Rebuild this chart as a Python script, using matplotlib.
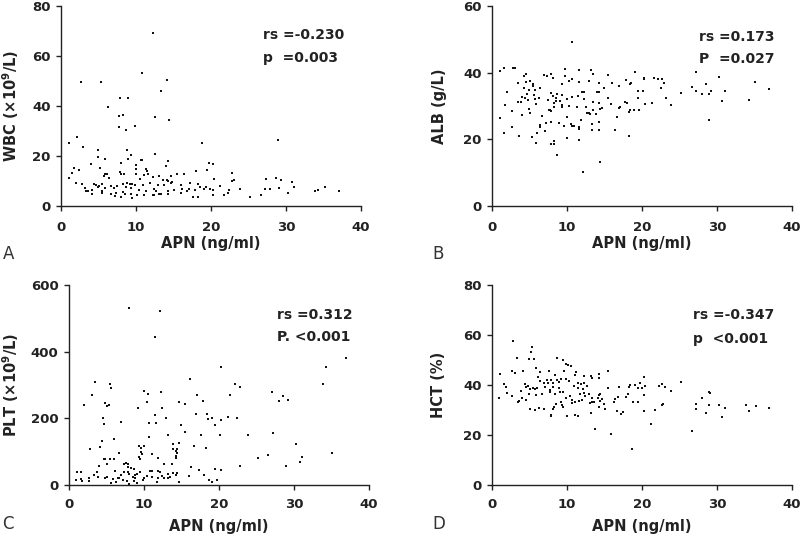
import matplotlib
matplotlib.use('Agg')
import matplotlib.pyplot as plt

# ---- panel A: WBC vs APN ----
wbc_apn = [12.2, 10.8, 2.7, 5.3, 14.1, 13.3, 6.3, 7.8, 8.9, 7.7, 8.3, 12.5, 14.4, 7.7, 9.8, 8.6,
           2.1, 1.0, 28.9, 18.8, 2.9, 4.9, 8.8, 12.5, 9.3, 4.9, 5.9, 8.9, 10.6, 10.8, 14.3, 8.0,
           19.7, 20.2, 4.0, 14.0, 10.0, 5.2, 1.7, 10.0, 11.3, 19.4, 1.4, 2.4, 18.0, 22.8, 11.4,
           11.6, 7.9, 5.9, 6.1, 8.0, 8.4, 11.1, 15.4, 16.4, 14.7, 13.1, 1.0, 5.7, 6.4, 10.0,
           14.1, 10.5, 12.2, 14.2, 20.4, 23.1, 27.3, 28.6, 29.3, 30.8, 22.8, 2.0, 2.8, 4.4,
           4.6, 5.1, 5.4, 6.7, 8.3, 8.8, 9.2, 9.4, 9.8, 10.9, 11.9, 12.9, 13.6, 13.7, 14.7,
           14.8, 17.2, 18.2, 16.0, 21.2, 19.3, 18.5, 3.2, 4.1, 4.9, 5.9, 7.1, 7.5, 8.7, 9.3,
           10.4, 11.3, 12.4, 12.6, 13.3, 14.2, 15.1, 16.1, 16.8, 17.0, 17.8, 19.0, 19.8, 20.3,
           22.4, 23.9, 27.2, 27.9, 29.0, 31.1, 33.8, 34.3, 35.2, 37.0, 3.3, 3.6, 5.4, 5.5, 6.7,
           7.3, 8.5, 9.3, 10.1, 11.1, 12.4, 13.1, 14.2, 16.0, 17.6, 18.3, 20.3, 21.7, 22.2,
           25.2, 26.7, 30.2, 4.1, 7.2, 8.0, 9.5, 12.2, 8.2]
wbc = [69.3, 53.2, 49.7, 49.5, 50.3, 45.9, 39.5, 43.3, 43.2, 36.1, 36.3, 35.5, 34.5, 31.5, 31.9, 30.3,
       27.6, 25.2, 26.4, 25.3, 23.6, 22.3, 22.3, 20.9, 20.5, 19.7, 18.9, 18.8, 18.3, 18.4, 18.0, 17.3,
       17.2, 16.9, 16.7, 16.0, 16.4, 15.2, 15.3, 15.0, 14.7, 14.5, 13.1, 14.3, 14.1, 13.3, 13.9,
       12.7, 13.6, 12.9, 12.9, 12.8, 12.7, 12.4, 12.7, 12.8, 12.1, 12.0, 11.2, 11.9, 11.2, 12.8,
       10.3, 10.8, 11.6, 9.9, 10.8, 10.5, 10.8, 11.1, 10.3, 9.5, 9.9, 9.2, 8.7, 8.7,
       8.4, 8.1, 8.8, 8.0, 8.9, 9.2, 8.9, 8.9, 8.4, 8.3, 9.2, 8.4, 10.3, 8.4, 9.3,
       9.5, 9.2, 8.8, 8.5, 7.9, 7.6, 7.7, 7.2, 6.5, 7.6, 7.1, 7.2, 8.1, 7.7, 7.2,
       6.5, 6.0, 6.8, 5.9, 4.9, 5.9, 6.4, 6.9, 6.0, 6.8, 6.4, 6.9, 6.7, 6.5,
       6.4, 6.7, 6.8, 6.7, 7.1, 7.7, 5.9, 6.4, 7.6, 6.1, 6.0, 5.9, 5.9, 5.3, 4.7,
       5.2, 4.7, 4.9, 4.4, 4.4, 4.5, 4.7, 4.7, 5.3, 3.6, 3.6, 4.5, 4.4, 5.2,
       3.7, 4.4, 5.1, 4.7, 3.9, 3.6, 3.2, 4.5, 5.5]

# ---- panel B: ALB vs APN ----
alb_apn = [10.6, 1.0, 1.6, 3.0, 2.85, 4.5, 6.9, 7.3, 7.9, 8.1, 9.7, 9.7, 10.3, 10.7, 11.6, 11.6,
           13.2, 13.5, 12.9, 14.3, 15.5, 14.9, 16.0, 16.9, 17.9, 19.1, 20.2, 20.3, 21.6, 22.1,
           22.7, 22.9, 22.5, 18.5, 18.4, 27.2, 30.3, 35.1, 36.9, 31.0, 27.2, 26.6, 28.5, 29.2,
           28.9, 28.0, 25.2, 23.2, 23.8, 30.7, 34.2, 28.9, 19.4, 19.4, 20.1, 20.4, 21.3, 19.6,
           18.4, 18.9, 18.3, 17.7, 18.0, 17.1, 16.9, 15.8, 15.4, 14.6, 14.4, 14.3, 14.0, 14.2,
           13.5, 13.4, 12.9, 12.5, 12.2, 12.0, 12.2, 11.4, 11.3, 10.3, 10.6, 10.0, 9.3, 9.0,
           9.3, 9.3, 8.7, 8.5, 8.5, 8.2, 8.1, 7.8, 7.5, 7.7, 7.9, 8.3, 9.3, 7.6, 7.2, 7.8,
           6.4, 6.3, 5.7, 5.5, 5.4, 5.0, 4.5, 4.3, 4.9, 4.6, 4.4, 4.8, 4.9, 5.0, 5.6, 5.7,
           5.9, 4.0, 4.0, 4.2, 3.4, 3.4, 3.9, 2.0, 1.7, 2.6, 1.0, 1.6, 2.7, 3.6, 5.3, 5.9,
           6.0, 6.4, 6.4, 6.7, 7.1, 7.9, 8.2, 8.3, 8.9, 8.7, 9.6, 10.0, 10.0, 10.5, 10.7,
           10.9, 11.6, 11.6, 11.9, 11.6, 12.1, 12.6, 13.1, 13.3, 13.3, 14.2, 14.3, 14.4,
           13.8, 16.4, 16.7, 18.2]
alb = [49.2, 40.6, 41.3, 41.3, 41.3, 39.5, 39.4, 39.1, 39.5, 38.5, 41.2, 39.0, 37.4, 38.1, 40.9, 37.1,
       40.9, 39.7, 37.6, 36.9, 39.2, 35.4, 36.8, 36.1, 37.7, 40.1, 38.5, 38.2, 38.5, 38.1,
       38.0, 36.8, 35.4, 36.8, 36.7, 40.1, 38.6, 37.1, 35.1, 34.6, 34.6, 35.8, 36.6, 34.5,
       33.7, 33.6, 33.8, 32.5, 30.2, 31.5, 31.7, 25.8, 34.6, 32.4, 34.6, 30.7, 30.8, 28.7,
       28.7, 28.9, 28.2, 31.1, 30.9, 29.7, 29.4, 30.7, 32.5, 29.5, 29.2, 34.2, 34.2, 31.0,
       31.3, 28.8, 28.0, 29.7, 32.1, 34.1, 34.1, 32.9, 29.7, 29.9, 32.7, 32.1, 33.2, 31.6,
       30.4, 29.6, 33.5, 32.4, 31.6, 31.0, 32.9, 33.8, 31.7, 28.8, 28.6, 29.6, 36.6, 28.9, 24.9, 25.2,
       35.3, 32.5, 34.9, 36.6, 36.1, 37.5, 37.2, 35.3, 34.9, 33.5, 32.5, 31.7, 29.2, 27.9, 33.4, 32.0,
       30.5, 32.7, 27.2, 38.9, 36.9, 31.2, 31.2, 34.2, 30.2, 28.6, 26.3, 22.0, 23.6, 21.1, 20.7, 18.8,
       21.9, 24.4, 23.7, 27.1, 22.6, 18.5, 18.5, 19.4, 25.0, 15.2, 24.1, 26.7, 20.5, 24.5, 23.9,
       23.9, 23.7, 23.1, 25.9, 19.8, 10.1, 27.9, 27.7, 24.5, 22.9, 25.1, 22.8, 13.2,
       27.5, 22.8, 26.8, 20.9]

# ---- panel C: PLT vs APN ----
plt_apn = [8.0, 12.1, 11.5, 36.9, 34.2, 20.2, 33.8, 16.1, 3.5, 5.5, 5.6, 22.1, 22.8, 10.0, 12.3, 3.0,
           10.5, 17.0, 21.5, 27.1, 28.5, 28.0, 29.2, 2.0, 4.8, 5.1, 5.3, 10.4, 14.7, 15.4, 17.9,
           9.2, 12.4, 18.4, 11.4, 16.9, 18.5, 19.1, 20.2, 21.2, 22.4, 19.5, 4.5, 4.7, 6.9, 12.9,
           10.7, 11.6, 14.9, 15.5, 13.2, 17.6, 20.1, 23.8, 27.2, 10.6, 6.0, 2.8, 4.1, 4.4, 13.9,
           14.6, 13.9, 14.3, 14.4, 16.7, 18.3, 30.2, 35.0, 9.3, 9.6, 10.0, 9.6, 9.3, 9.4, 9.7,
           6.6, 4.6, 4.8, 5.5, 6.0, 7.3, 7.6, 7.9, 7.9, 8.3, 8.7, 11.0, 11.9, 12.7, 13.7, 14.2,
           14.2, 14.4, 25.2, 26.5, 31.1, 30.8, 28.9, 22.8, 20.2, 16.3, 17.3, 19.5, 13.8, 14.4,
           14.3, 18.0, 11.8, 11.1, 10.8, 12.1, 12.4, 12.7, 13.2, 13.2, 13.4, 11.0, 10.4, 10.0,
           9.4, 9.1, 8.8, 8.8, 8.5, 8.0, 7.9, 7.3, 6.5, 6.1, 5.9, 5.1, 4.8, 3.9, 3.7, 3.3, 2.6,
           2.7, 1.6, 1.7, 0.9, 1.0, 1.6, 4.0, 5.1, 5.6, 6.2, 7.2, 7.7, 8.0, 9.0, 9.9, 11.7,
           11.9, 14.6, 16.0, 18.6, 19.0, 19.7, 8.7, 6.9, 6.6]
plt_vals = [530, 521, 445, 381, 354, 353, 304, 318, 310, 303, 291, 304, 295, 283, 280, 270,
            272, 271, 270, 278, 268, 253, 255, 240, 246, 238, 239, 249, 249, 242, 252,
            231, 232, 214, 210, 212, 197, 200, 195, 203, 202, 179, 200, 182, 190, 201,
            186, 186, 181, 159, 150, 150, 150, 150, 156, 144, 139, 107, 115, 131, 122,
            127, 107, 102, 107, 116, 110, 122, 96, 116, 112, 116, 100, 84, 78, 93,
            96, 77, 79, 79, 79, 64, 65, 64, 55, 52, 47, 93, 82, 62, 62, 86,
            81, 95, 82, 89, 84, 70, 56, 57, 45, 55, 46, 49, 36, 36,
            29, 29, 42, 41, 42, 38, 27, 22, 32, 20, 24, 24, 27, 22,
            38, 32, 30, 21, 25, 32, 39, 38, 22, 42, 19, 24, 21, 24, 38, 31, 20,
            12, 18, 11, 16, 38, 38, 56, 62, 5, 9, 15, 12, 4, 7, 15, 8,
            20, 10, 28, 15, 10, 16, 11, 29, 20]

# ---- panel D: HCT vs APN ----
hct_apn = [2.8, 5.3, 5.2, 4.9, 3.3, 5.6, 8.6, 9.4, 2.7, 3.0, 1.0, 4.1, 5.8, 6.4, 7.6, 9.8, 10.1,
           10.5, 9.6, 11.2, 15.5, 14.2, 14.3, 13.2, 13.3, 12.2, 11.1, 8.4, 8.7, 8.9, 9.2, 9.9,
           10.3, 6.1, 6.4, 7.3, 7.9, 8.1, 6.9, 7.5, 1.6, 1.8, 2.0, 2.7, 0.9, 3.4, 3.6, 3.9,
           4.4, 4.5, 4.8, 5.0, 4.9, 4.0, 4.5, 5.7, 6.0, 5.4, 5.8, 6.7, 7.1, 7.7, 7.7, 8.1,
           8.9, 9.1, 9.4, 8.4, 9.9, 10.4, 10.9, 11.4, 11.8, 11.5, 12.1, 12.2, 12.3, 12.7,
           12.9, 12.4, 11.7, 12.0, 11.6, 10.7, 10.7, 9.2, 8.5, 8.2, 8.1, 7.8, 7.9, 6.9, 6.3,
           5.7, 5.0, 9.3, 9.5, 13.3, 13.3, 13.0, 13.6, 14.2, 14.4, 14.1, 14.6, 14.9, 14.2,
           15.0, 15.4, 16.2, 16.4, 16.8, 16.9, 16.7, 17.2, 17.5, 17.8, 18.1, 18.2, 18.4, 19.1,
           19.4, 19.7, 20.0, 20.3, 20.4, 20.3, 18.8, 19.4, 20.2, 22.2, 22.7, 23.1, 23.8, 25.2,
           22.6, 22.8, 21.7, 21.2, 13.7, 15.9, 18.6, 26.6, 27.2, 27.2, 28.0, 28.9, 29.1, 28.9,
           28.5, 30.3, 31.1, 30.7, 33.9, 34.3, 35.2, 36.9, 10.0, 11.0, 11.5, 13.2, 11.0, 14.4]
hct = [57.7, 55.1, 53.3, 50.4, 50.8, 50.4, 50.9, 50.0, 45.6, 44.7, 44.5, 45.7, 46.7, 45.2, 45.7, 48.5, 47.9,
       47.5, 45.5, 45.3, 45.7, 44.5, 42.8, 43.5, 42.8, 43.6, 44.0, 43.9, 42.0, 41.2, 42.5, 42.3,
       41.5, 43.1, 41.5, 41.9, 41.9, 40.7, 40.8, 40.7, 40.5, 39.3, 36.8, 35.6, 34.9, 33.2, 33.6, 37.5,
       40.4, 39.2, 39.5, 38.4, 36.3, 34.8, 33.9, 38.5, 38.9, 38.7, 36.0, 36.5, 39.2, 38.0, 37.2, 39.3,
       38.9, 37.2, 37.3, 36.4, 34.7, 35.6, 39.7, 38.7, 40.3, 40.9, 38.3, 40.9, 36.9, 39.5,
       36.3, 35.6, 36.5, 33.9, 33.6, 33.9, 32.8, 33.1, 32.3, 31.2, 30.3, 28.1, 27.6, 30.5, 30.9,
       29.9, 30.3, 32.0, 31.2, 34.9, 33.1, 32.7, 33.3, 35.9, 36.3, 34.7, 34.5, 32.4, 31.2,
       30.3, 38.7, 33.2, 34.5, 35.1, 39.3, 29.6, 28.3, 29.1, 35.2, 36.5, 39.3, 39.9, 40.0,
       38.9, 40.7, 38.9, 36.0, 39.7, 43.2, 33.2, 33.2, 29.6, 39.6, 40.3, 39.2, 37.7, 41.2,
       32.0, 32.5, 29.9, 24.3, 22.3, 20.5, 14.5, 21.6, 32.3, 30.5, 34.8, 37.2, 36.7, 32.1,
       28.7, 32.1, 30.8, 27.2, 31.9, 29.5, 31.7, 30.7, 27.6, 28.0, 27.5, 28.7, 33.1, 33.5]

ylabels = ['WBC (×10$^{\\mathbf{9}}$/L)', 'ALB (g/L)', 'PLT (×10$^{\\mathbf{9}}$/L)', 'HCT (%)']
yticks = [[0, 20, 40, 60, 80], [0, 20, 40, 60], [0, 200, 400, 600], [0, 20, 40, 60, 80]]
stats = [('rs =-0.230', 'p  =0.003'), ('rs =0.173', 'P  =0.027'),
         ('rs =0.312', 'P. <0.001'), ('rs =-0.347', 'p  <0.001')]
letters = ['A', 'B', 'C', 'D']

plt.rcParams['font.family'] = ['DejaVu Sans']
ink = '#222222'

fig = plt.figure(figsize=(8, 5.38), dpi=100)
# axes rectangles (left, bottom, width, height) in figure fraction
rects = [(0.07625, 0.6171, 0.375, 0.3717), (0.615, 0.6171, 0.375, 0.3717),
         (0.08625, 0.0985, 0.375, 0.3717), (0.615, 0.0985, 0.375, 0.3717)]
ylab_x = [-0.133, -0.15, -0.16, -0.153]
xlab_y = [-0.15, -0.15, -0.168, -0.168]
xpad = [7.5, 7.5, 6.0, 6.0]
text_x = [0.673, 0.69, 0.693, 0.67]
text_y = [(0.855, 0.74), (0.845, 0.735), (0.85, 0.74), (0.85, 0.73)]
letter_pos = [(0.003, 0.518), (0.54, 0.518), (0.003, 0.016), (0.54, 0.016)]

data = [(wbc_apn, wbc), (alb_apn, alb), (plt_apn, plt_vals), (hct_apn, hct)]

for i in range(4):
    ax = fig.add_axes(rects[i])
    xs, ys = data[i]
    ax.scatter(xs, ys, s=3, marker='s', color='#111111', linewidths=0)
    ax.set_xlim(0, 40)
    ax.set_ylim(yticks[i][0], yticks[i][-1])
    ax.set_xticks([0, 10, 20, 30, 40])
    ax.set_yticks(yticks[i])
    for side in ['top', 'right']:
        ax.spines[side].set_visible(False)
    for side in ['left', 'bottom']:
        ax.spines[side].set_color(ink)
        ax.spines[side].set_linewidth(1.0)
    ax.tick_params(direction='out', length=3.5, width=1.0, color=ink,
                   labelsize=9.5, labelcolor=ink, pad=4)
    ax.tick_params(axis='x', pad=xpad[i])
    for lab in ax.get_xticklabels() + ax.get_yticklabels():
        lab.set_fontweight('bold')
    ax.set_xlabel('APN (ng/ml)', fontsize=10.5, fontweight='bold', color=ink)
    ax.set_ylabel(ylabels[i], fontsize=10.5, fontweight='bold', color=ink)
    ax.xaxis.set_label_coords(0.5, xlab_y[i])
    ax.yaxis.set_label_coords(ylab_x[i], 0.5)
    ax.text(text_x[i], text_y[i][0], stats[i][0], transform=ax.transAxes,
            fontsize=10, fontweight='bold', color=ink, va='center')
    ax.text(text_x[i], text_y[i][1], stats[i][1], transform=ax.transAxes,
            fontsize=10, fontweight='bold', color=ink, va='center')
    fig.text(letter_pos[i][0], letter_pos[i][1], letters[i], fontsize=12, color='#333333')

fig.savefig('out.png', dpi=100)
